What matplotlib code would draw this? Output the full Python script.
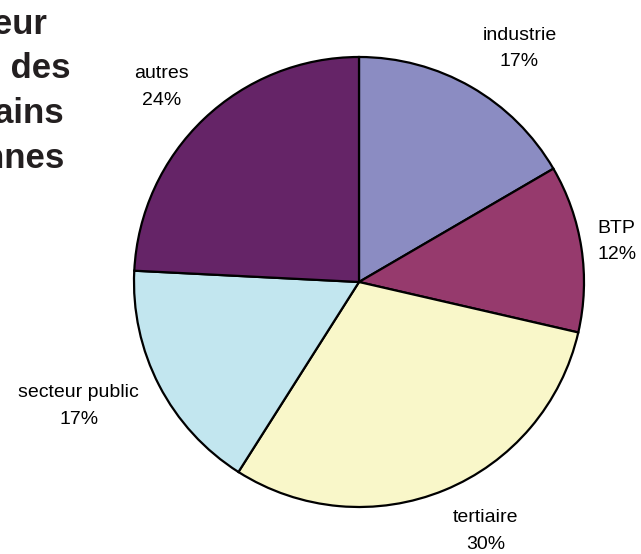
import matplotlib.pyplot as plt
import numpy as np

plt.rcParams['font.family'] = ['Liberation Sans', 'DejaVu Sans']

# parts of salaried jobs by sector (%)
sectors = ["industrie", "BTP", "tertiaire", "secteur public", "autres"]
shares = [16.6, 12.0, 30.4, 16.8, 24.2]
colors = ["#8B8CC2", "#963A6D", "#F9F7C9", "#C2E6EF", "#652467"]
title_lines = ["Emplois par secteur", "d'activité des", "pôles urbains", "des villes moyennes"]

W, H = 641, 554
fig = plt.figure(figsize=(W / 100, H / 100), dpi=100)

# pie centered at (359, 282) px, radius 225 px
cx, cy, r = 359, 282, 225
ax = fig.add_axes([(cx - r) / W, (H - cy - r) / H, 2 * r / W, 2 * r / H])

wedges, _ = ax.pie(shares, colors=colors, startangle=90, counterclock=False,
                   radius=1, wedgeprops=dict(edgecolor="black", linewidth=1.6))
ax.set_xlim(-1, 1)
ax.set_ylim(-1, 1)
ax.set_aspect("equal")
ax.axis("off")

renderer = fig.canvas.get_renderer()

# labels placed just outside each slice, like the spreadsheet does it
for w, name, val in zip(wedges, sectors, shares):
    mid = np.deg2rad((w.theta1 + w.theta2) / 2)
    x, y = 1.1 * np.cos(mid), 1.1 * np.sin(mid)
    if abs(np.sin(mid)) < 0.4:
        x = 1.07 * np.cos(mid)
    ha = "left" if x > 0 else "right"
    t = ax.text(x, y, "%s\n%d%%" % (name, round(val)), ha=ha, va="center",
                multialignment="center", fontsize=14, linespacing=1.75,
                clip_on=False)
    # push the box outward by half its height, following the angle
    bh = t.get_window_extent(renderer).height / r
    t.set_y(y + 0.5 * bh * np.sin(mid))

# title, partly cut by the left edge of the picture
title_right = [47, 71, 64, 64]
title_base = [34, 78, 123, 168]
for line, xr, yb in zip(title_lines, title_right, title_base):
    fig.text(xr / W, 1 - yb / H, line, ha="right", va="baseline",
             fontsize=25, fontweight="bold", color="#231F20")

fig.savefig("out.png", dpi=100)
